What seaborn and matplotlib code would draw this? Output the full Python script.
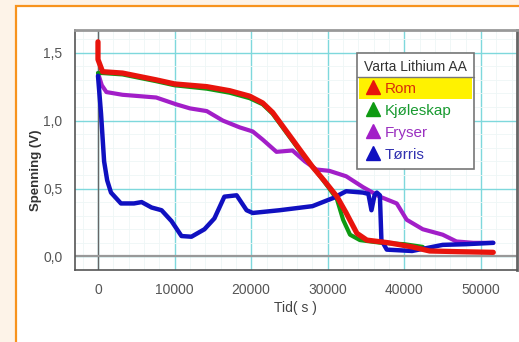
import numpy as np
import pandas as pd
import matplotlib
matplotlib.use("Agg")
import matplotlib.pyplot as plt
from matplotlib.patches import Rectangle
from matplotlib.lines import Line2D
import matplotlib.ticker as mticker
import seaborn as sns

# ---------------- data ----------------
rom_t = [0, 0, 600, 3200, 7600, 10000, 14200, 17200, 19800, 21500, 22800, 24100,
         25400, 26300, 28000, 29500, 31200, 32400, 33800, 35100, 38000, 41000,
         43300, 47000, 51600]
rom_v = [1.58, 1.45, 1.36, 1.35, 1.30, 1.27, 1.25, 1.22, 1.18, 1.13, 1.06, 0.96,
         0.86, 0.79, 0.66, 0.56, 0.44, 0.32, 0.17, 0.12, 0.10, 0.07,
         0.04, 0.035, 0.03]

kj_t = [0, 600, 3200, 7600, 10000, 14200, 17200, 19800, 21500, 22800, 24100,
        25400, 26300, 28000, 29000, 30200, 31200, 32000, 32900, 34200, 37000,
        40000, 42400]
kj_v = [1.35, 1.35, 1.34, 1.29, 1.26, 1.235, 1.205, 1.165, 1.12, 1.05, 0.95,
        0.85, 0.78, 0.66, 0.59, 0.50, 0.42, 0.27, 0.16, 0.12, 0.10,
        0.09, 0.07]

fr_t = [0, 500, 1100, 3200, 7600, 10200, 12000, 14200, 16300, 18500, 20200,
        21500, 23300, 25400, 27000, 28500, 30200, 32400, 34600, 36800, 39000,
        40300, 42400, 45000, 46800, 49000, 51600]
fr_v = [1.35, 1.26, 1.21, 1.19, 1.17, 1.12, 1.09, 1.07, 1.00, 0.95, 0.92,
        0.86, 0.77, 0.78, 0.70, 0.64, 0.63, 0.59, 0.51, 0.44, 0.39,
        0.27, 0.20, 0.16, 0.11, 0.10, 0.10]

tr_t = [0, 400, 800, 1200, 1700, 3000, 4700, 5700, 7000, 8300, 9600, 10900,
        12200, 13900, 15200, 16500, 18100, 19400, 20200, 23700, 28000, 30700,
        32400, 34600, 35300, 35700, 36100, 36400, 36800, 37000, 37700, 41000,
        45000, 48000, 51600]
tr_v = [1.33, 1.05, 0.70, 0.56, 0.47, 0.39, 0.39, 0.40, 0.36, 0.34, 0.26, 0.15,
        0.145, 0.20, 0.28, 0.44, 0.45, 0.34, 0.32, 0.34, 0.37, 0.43,
        0.48, 0.47, 0.46, 0.34, 0.45, 0.47, 0.45, 0.12, 0.05, 0.04,
        0.085, 0.09, 0.10]

series_names = ["Rom", "Kjøleskap", "Fryser", "Tørris"]
series_colors = ["#E8140C", "#0E9A12", "#A21EC8", "#1010C0"]
legend_title = "Varta Lithium AA"
x_ticks = [0, 10000, 20000, 30000, 40000, 50000]
y_ticks = [0.0, 0.5, 1.0, 1.5]

frames = []
for name, t, v in [("Rom", rom_t, rom_v), ("Kjøleskap", kj_t, kj_v),
                   ("Fryser", fr_t, fr_v), ("Tørris", tr_t, tr_v)]:
    frames.append(pd.DataFrame({"t": t, "v": v, "serie": name}))
df = pd.concat(frames, ignore_index=True)

# ---------------- figure ----------------
sns.set_style("white")
plt.rcParams["font.family"] = ["Liberation Sans", "DejaVu Sans"]
W, H = 519, 342
fig = plt.figure(figsize=(W / 100, H / 100), dpi=100, facecolor="#FDF3E8")

# outer orange frame with white inside
fig.patches.append(Rectangle((15.5 / W, -0.05), 1.2, 1 - 5.5 / H + 0.05,
                             transform=fig.transFigure, facecolor="white",
                             edgecolor="#F7931E", linewidth=1.6, zorder=-1))

ax = fig.add_axes([75 / W, 1 - 270 / H, (517 - 75) / W, (270 - 30) / H])
ax.set_zorder(1)
ax.set_facecolor("white")

# draw order: purple, green, blue, red on top
order = [("Fryser", 3.0), ("Kjøleskap", 3.0), ("Tørris", 3.2), ("Rom", 3.8)]
cmap = dict(zip(series_names, series_colors))
for name, lw in order:
    sub = df[df["serie"] == name]
    sns.lineplot(data=sub, x="t", y="v", ax=ax, color=cmap[name], linewidth=lw,
                 estimator=None, sort=False, legend=False, zorder=4,
                 solid_capstyle="round", solid_joinstyle="round")

ax.set_xlim(-3000, 54700)
ax.set_ylim(-0.1, 1.667)
ax.set_xticks(x_ticks)
ax.set_yticks(y_ticks)
ax.yaxis.set_major_formatter(mticker.FuncFormatter(lambda v, p: f"{v:.1f}".replace(".", ",")))
ax.xaxis.set_major_formatter(mticker.FuncFormatter(lambda v, p: f"{int(v)}"))
ax.xaxis.set_minor_locator(mticker.MultipleLocator(2000))
ax.yaxis.set_minor_locator(mticker.MultipleLocator(0.1))
ax.grid(True, which="major", color="#7ED8DC", linewidth=1.0, zorder=1)
ax.grid(True, which="minor", color="#EEF6F6", linewidth=0.6, zorder=0.5)
ax.set_axisbelow(True)
ax.tick_params(axis="both", which="major", labelsize=10, colors="#555555",
               length=5, width=1, direction="out", pad=4)
ax.tick_params(which="minor", length=0)

ax.axvline(0, color="#666666", linewidth=1.0, zorder=2)
ax.axhline(0, color="#999999", linewidth=1.6, zorder=2)

for side in ["left", "bottom"]:
    ax.spines[side].set_color("#555555")
    ax.spines[side].set_linewidth(1.2)
ax.spines["top"].set_color("#999999")
ax.spines["top"].set_linewidth(2.0)
ax.spines["right"].set_color("#666666")
ax.spines["right"].set_linewidth(2.0)

ax.set_xlabel("")
ax.set_ylabel("")
fig.text(295 / W, 1 - 308 / H, "Tid( s )", fontsize=10, color="#444444",
         ha="center", va="center")
fig.text(36 / W, 1 - 170 / H, "Spenning (V)", fontsize=9.5, color="#333333",
         ha="center", va="center", rotation=90, fontweight="bold")

# legend (figure level so that its background patches can be layered)
handles = [Line2D([], [], marker="^", linestyle="none", color=c, markersize=10)
           for c in series_colors]
leg = fig.legend(handles, series_names, title=legend_title, loc="upper left",
                 bbox_to_anchor=(357 / W, 1 - 53 / H),
                 frameon=True, fancybox=False, framealpha=1, edgecolor="#777777",
                 fontsize=11, title_fontsize=10, handletextpad=0.15,
                 handlelength=1.2, borderpad=0.45, labelspacing=0.52,
                 borderaxespad=0)
leg.get_frame().set_linewidth(1.2)
leg.set_zorder(10)
leg.get_frame().set_facecolor("none")
leg._legend_box.align = "left"
for txt, c in zip(leg.get_texts(), ["#D8300A", "#189A30", "#9A30C0", "#3030B0"]):
    txt.set_color(c)
leg.get_title().set_color("#333333")

fig.canvas.draw()
r = fig.canvas.get_renderer()
lb = leg.get_window_extent(r)
tb = leg.get_title().get_window_extent(r)
t0 = leg.get_texts()[0].get_window_extent(r)
inv = fig.transFigure.inverted()
(x0, y0), (x1, y1) = inv.transform([[lb.x0, lb.y0], [lb.x1, lb.y1]])
sep_y = inv.transform([[0, tb.y0 - 3]])[0][1]
(ax0, ay0), (ax1, ay1) = inv.transform([[lb.x0, t0.y0 - 3], [lb.x1, t0.y1 + 2]])
fig.patches.append(Rectangle((x0, y0), x1 - x0, y1 - y0, transform=fig.transFigure,
                             facecolor="white", edgecolor="none", zorder=5))
fig.patches.append(Rectangle((x0 + 2 / W, ay0), x1 - x0 - 4 / W, sep_y - ay0 - 1 / H,
                             transform=fig.transFigure, facecolor="#FFF200",
                             edgecolor="none", zorder=6))
fig.lines.append(Line2D([x0, x1], [sep_y, sep_y], transform=fig.transFigure,
                        color="#777777", linewidth=1.0, zorder=7))

fig.savefig("out.png", dpi=100, facecolor=fig.get_facecolor())
